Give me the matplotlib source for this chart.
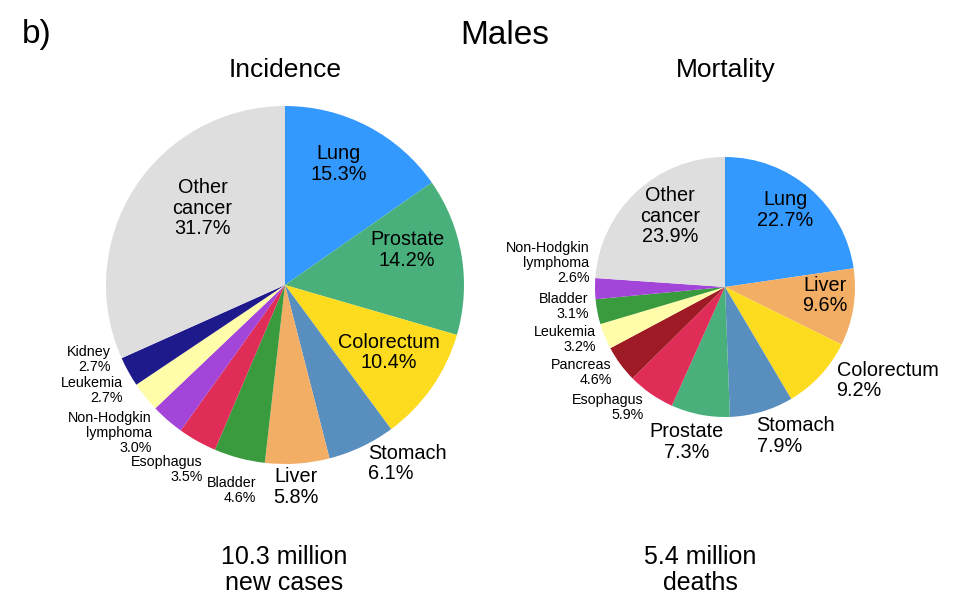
import numpy as np
import matplotlib
matplotlib.use("Agg")
import matplotlib.pyplot as plt

plt.rcParams["font.family"] = ["Liberation Sans", "DejaVu Sans"]

# ============================================================
# DATA
# ============================================================

inc_names = ["Lung", "Prostate", "Colorectum", "Stomach", "Liver", "Bladder",
             "Esophagus", "Non-Hodgkin\nlymphoma", "Leukemia", "Kidney", "Other\ncancer"]
inc_values = [15.3, 14.2, 10.4, 6.1, 5.8, 4.6, 3.5, 3.0, 2.7, 2.7, 31.7]

mort_names = ["Lung", "Liver", "Colorectum", "Stomach", "Prostate", "Esophagus",
              "Pancreas", "Leukemia", "Bladder", "Non-Hodgkin\nlymphoma", "Other\ncancer"]
mort_values = [22.7, 9.6, 9.2, 7.9, 7.3, 5.9, 4.6, 3.2, 3.1, 2.6, 23.9]

colors = {
    "Lung": "#3399FF", "Prostate": "#49B07C", "Colorectum": "#FDDB1F",
    "Stomach": "#598FBF", "Liver": "#F3AE65", "Bladder": "#3A9A3E",
    "Esophagus": "#E02D57", "Non-Hodgkin\nlymphoma": "#A245D8",
    "Leukemia": "#FFFDAA", "Kidney": "#1E1A8C", "Other\ncancer": "#DEDEDE",
    "Pancreas": "#9E1B25",
}

# label placement: (radius factor, angle deg, alignment, big font?)
inc_labels = [
    (0.74, 66, "center", True), (0.71, 16, "center", True), (0.69, -33, "center", True),
    (1.10, -65, "left", True), (1.13, -87, "center", True), (1.16, -98, "right", False),
    (1.13, -114, "right", False), (1.11, -132, "right", False), (1.08, -147, "right", False),
    (1.06, -157, "right", False), (0.63, 137, "center", True),
]
mort_labels = [
    (0.75, 52, "center", True), (0.77, -5, "center", True), (1.12, -40, "left", True),
    (1.17, -78, "left", True), (1.23, -104, "center", True), (1.12, -124, "right", False),
    (1.09, -143, "right", False), (1.07, -158, "right", False), (1.06, -172, "right", False),
    (1.06, 170, "right", False), (0.69, 128, "center", True),
]


def draw_pie(ax, names, values, labels, center, radius):
    ax.pie(values, colors=[colors[n] for n in names], startangle=90,
           counterclock=False, center=center, radius=radius, frame=True,
           wedgeprops=dict(linewidth=0))
    for name, val, (rf, ang, ha, big) in zip(names, values, labels):
        a = np.deg2rad(ang)
        x = center[0] + rf * radius * np.cos(a)
        y = center[1] + rf * radius * np.sin(a)
        ax.text(x, y, f"{name}\n{val:.1f}%", ha=ha, va="center", multialignment=ha,
                fontsize=14.3 if big else 10.3, linespacing=1.1)


fig = plt.figure(figsize=(9.6, 6.05), dpi=100)
ax = fig.add_axes([0, 0, 1, 1])

draw_pie(ax, inc_names, inc_values, inc_labels, (285, 320), 179)
draw_pie(ax, mort_names, mort_values, mort_labels, (725, 318), 130)

ax.set_xlim(0, 960)
ax.set_ylim(0, 605)
ax.set_aspect("equal")
ax.axis("off")

ax.text(22, 570, "b)", fontsize=24, ha="left", va="center")
ax.text(505, 570, "Males", fontsize=24, ha="center", va="center")
ax.text(285, 535, "Incidence", fontsize=19, ha="center", va="center")
ax.text(726, 535, "Mortality", fontsize=19, ha="center", va="center")
ax.text(284, 35, "10.3 million\nnew cases", fontsize=18, ha="center", va="center", linespacing=1.15)
ax.text(700, 35, "5.4 million\ndeaths", fontsize=18, ha="center", va="center", linespacing=1.15)

fig.savefig("out.png", dpi=100)
